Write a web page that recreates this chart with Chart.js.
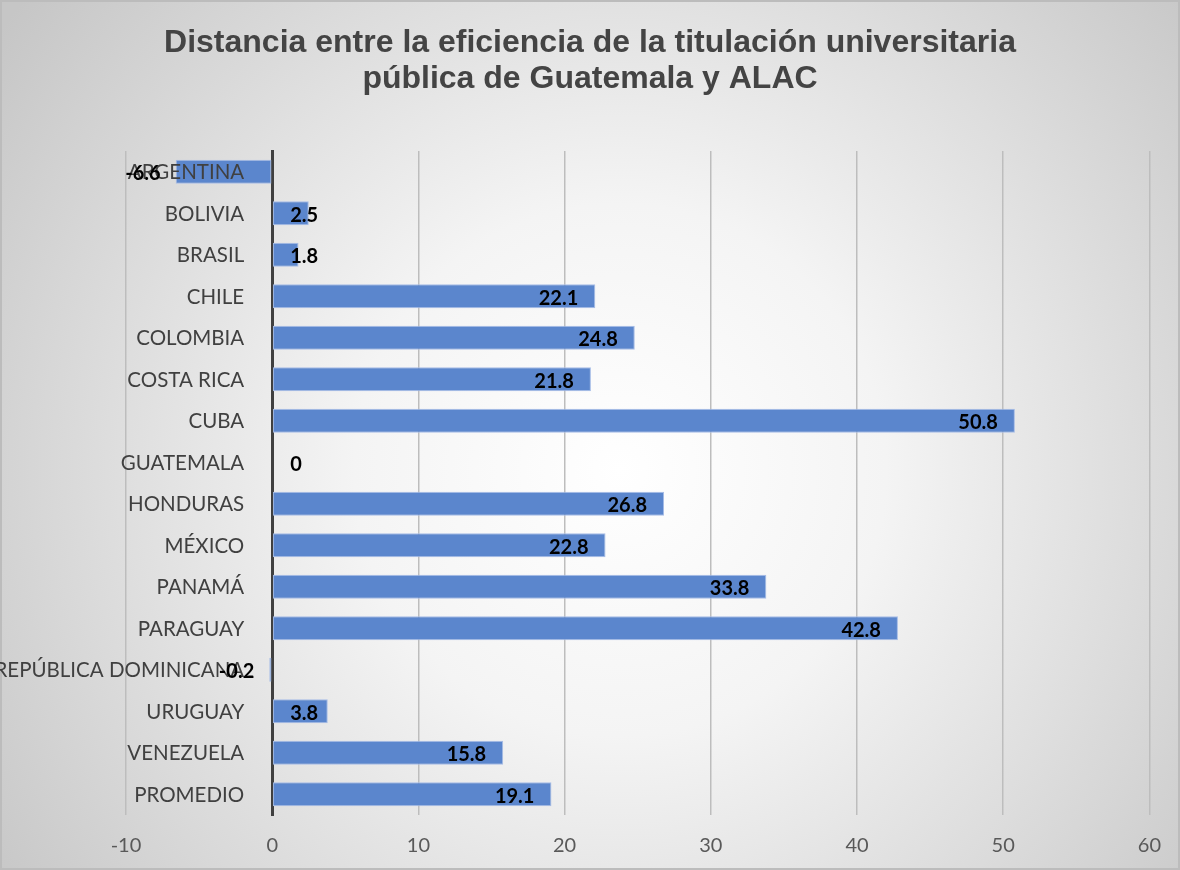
<!DOCTYPE html>
<html>
<head>
<meta charset="utf-8">
<script src="https://cdn.jsdelivr.net/npm/chart.js@4.4.1/dist/chart.umd.min.js"></script>
<style>
  html, body { margin: 0; padding: 0; background: #fff; }
  #wrap { width: 1180px; height: 870px; position: relative; }
</style>
</head>
<body>
<div id="wrap"><canvas id="chart" width="1180" height="870"></canvas></div>
<script>
// data
const countries = [
  "ARGENTINA", "BOLIVIA", "BRASIL", "CHILE", "COLOMBIA", "COSTA RICA",
  "CUBA", "GUATEMALA", "HONDURAS", "MÉXICO", "PANAMÁ", "PARAGUAY",
  "REPÚBLICA DOMINICANA", "URUGUAY", "VENEZUELA", "PROMEDIO"
];
const distances = [
  -6.6, 2.5, 1.8, 22.1, 24.8, 21.8,
  50.8, 0, 26.8, 22.8, 33.8, 42.8,
  -0.2, 3.8, 15.8, 19.1
];
const xTicks = [-10, 0, 10, 20, 30, 40, 50, 60];
const titleLines = [
  "Distancia entre la eficiencia de la titulación universitaria",
  "pública de Guatemala y ALAC"
];

const labelFont = "Lato, 'Open Sans', sans-serif";

// soft radial background, border and title
const backgroundPlugin = {
  id: "bg",
  beforeDraw(chart) {
    const { ctx, width, height } = chart;
    ctx.save();
    const g = ctx.createRadialGradient(620, 470, 0, 620, 470, 760);
    g.addColorStop(0, "#ffffff");
    g.addColorStop(0.35, "#f4f4f4");
    g.addColorStop(1, "#c6c6c6");
    ctx.fillStyle = g;
    ctx.fillRect(0, 0, width, height);
    ctx.strokeStyle = "#bcbcbc";
    ctx.lineWidth = 2;
    ctx.strokeRect(1, 1, width - 2, height - 2);

    ctx.fillStyle = "#444";
    ctx.font = "bold 32px 'Liberation Sans', Arial, sans-serif";
    ctx.textAlign = "center";
    ctx.textBaseline = "alphabetic";
    ctx.fillText(titleLines[0], width / 2, 52);
    ctx.fillText(titleLines[1], width / 2, 88);
    ctx.restore();
  }
};

// category names, right aligned next to the zero line
const categoryLabels = {
  id: "categoryLabels",
  afterDatasetsDraw(chart) {
    const { ctx } = chart;
    const y = chart.scales.y;
    const zero = chart.scales.x.getPixelForValue(0);
    ctx.save();
    ctx.font = "20.5px " + labelFont;
    ctx.fillStyle = "#404040";
    ctx.textAlign = "right";
    ctx.textBaseline = "middle";
    countries.forEach(function (name, i) {
      ctx.fillText(name, zero - 28, y.getPixelForValue(i) + 1);
    });
    ctx.restore();
  }
};

// value labels, placed like Excel "inside end"
const valueLabels = {
  id: "valueLabels",
  afterDraw(chart) {
    const { ctx } = chart;
    const meta = chart.getDatasetMeta(0);
    const zero = chart.scales.x.getPixelForValue(0);
    ctx.save();
    ctx.font = "bold 20px " + labelFont;
    ctx.fillStyle = "#000";
    ctx.textBaseline = "middle";
    ctx.textAlign = "right";
    meta.data.forEach(function (bar, i) {
      const v = distances[i];
      const txt = String(v);
      const w = ctx.measureText(txt).width;
      let right;
      if (v >= 0) {
        right = Math.max(bar.x - 17, zero + 18 + w);
      } else {
        right = bar.x - 15;
      }
      ctx.fillText(txt, right, bar.y + 2);
    });
    ctx.restore();
  }
};

new Chart(document.getElementById("chart"), {
  type: "bar",
  data: {
    labels: countries,
    datasets: [{
      data: distances,
      backgroundColor: "#5b86cd",
      borderColor: "#a6bce6",
      borderWidth: 1,
      borderSkipped: false,
      categoryPercentage: 1,
      barPercentage: 0.58
    }]
  },
  options: {
    indexAxis: "y",
    responsive: false,
    animation: false,
    layout: { padding: { top: 151, left: 126, right: 28, bottom: 0 } },
    plugins: {
      legend: { display: false },
      tooltip: { enabled: false },
      title: { display: false }
    },
    scales: {
      x: {
        min: -10,
        max: 60,
        afterBuildTicks(scale) {
          scale.ticks = xTicks.map(v => ({ value: v }));
        },
        afterFit(scale) {
          scale.height = 55;
        },
        grid: { color: "#bdbdbd", lineWidth: 1.5, drawTicks: false },
        border: { display: false },
        ticks: {
          color: "#595959",
          padding: 19,
          font: { family: labelFont, size: 20 }
        }
      },
      y: {
        position: { x: 0 },
        z: 1,
        grid: { display: false },
        border: { display: true, color: "#404040", width: 3 },
        ticks: { display: false }
      }
    }
  },
  plugins: [backgroundPlugin, categoryLabels, valueLabels]
});
</script>
</body>
</html>
